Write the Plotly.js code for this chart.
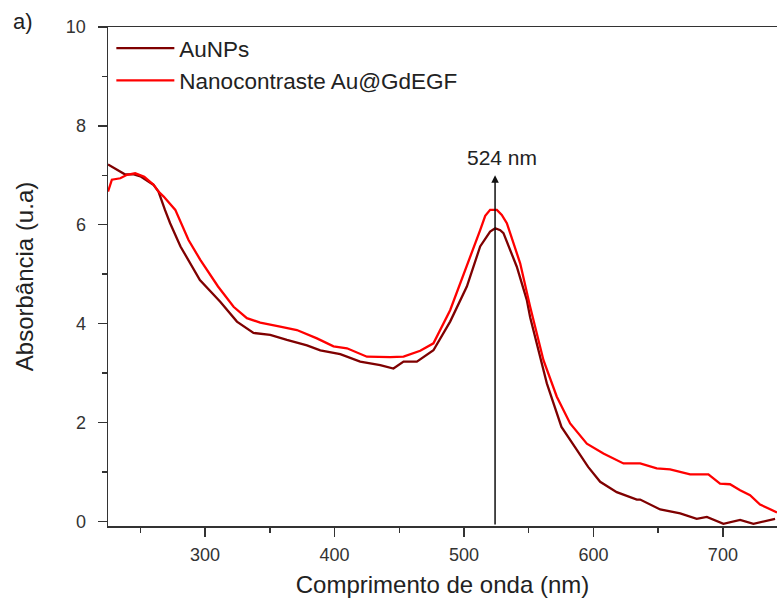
<!DOCTYPE html>
<html>
<head>
<meta charset="utf-8">
<script src="https://cdn.plot.ly/plotly-3.0.1.min.js"></script>
<style>html,body{margin:0;padding:0;background:#fff;}</style>
</head>
<body>
<div id="chart" style="width:777px;height:598px;"></div>
<script>
// Wavelength (nm) and absorbance (u.a)
const auX = [225, 238, 245, 250, 260, 264, 269, 273, 281, 296, 311.7, 319.5, 324.6, 337.4, 350.3, 363.2, 378.7, 389, 404.4, 419.8, 435.3, 445.5, 453.3, 463.6, 476.4, 489.3, 502.2, 512.5, 518, 520.2, 524.1, 528, 530.5, 540.8, 548.5, 551.1, 564, 575.3, 585.5, 595.9, 605.2, 618, 633.5, 636.1, 651.6, 667, 679.8, 687.6, 700.4, 713.3, 723.6, 731.3, 740.3];
const auY = [7.22, 7.02, 7.02, 6.98, 6.81, 6.67, 6.30, 6.03, 5.56, 4.88, 4.44, 4.21, 4.04, 3.81, 3.77, 3.67, 3.56, 3.46, 3.38, 3.23, 3.16, 3.09, 3.23, 3.23, 3.46, 4.04, 4.75, 5.56, 5.78, 5.86, 5.93, 5.89, 5.83, 5.15, 4.48, 4.13, 2.79, 1.91, 1.51, 1.10, 0.80, 0.59, 0.44, 0.44, 0.24, 0.16, 0.05, 0.09, -0.05, 0.03, -0.05, -0.01, 0.05];

const nanoX = [225, 228, 234.5, 239.7, 246, 253, 260.2, 264, 268, 277, 287.2, 296.3, 310, 322, 332.3, 342.6, 358, 370.9, 386.4, 399.2, 409.6, 425, 443, 453.3, 466.2, 476.4, 489.3, 502.2, 512.5, 516.4, 520.2, 525.4, 529.2, 533.1, 543.4, 551.1, 561.4, 571.7, 582, 594.9, 607.7, 623.2, 636.1, 648.9, 659.2, 674.7, 688.8, 697.8, 705.5, 713.3, 721, 728.7, 739, 741.8];
const nanoY = [6.67, 6.91, 6.94, 7.01, 7.04, 6.97, 6.81, 6.67, 6.57, 6.30, 5.69, 5.29, 4.75, 4.34, 4.11, 4.02, 3.94, 3.87, 3.70, 3.54, 3.50, 3.33, 3.32, 3.33, 3.45, 3.60, 4.27, 5.15, 5.89, 6.18, 6.30, 6.30, 6.20, 6.03, 5.22, 4.34, 3.26, 2.52, 1.98, 1.57, 1.37, 1.17, 1.17, 1.07, 1.05, 0.95, 0.95, 0.76, 0.75, 0.63, 0.53, 0.34, 0.22, 0.18];

const seriesNames = ["AuNPs", "Nanocontraste Au@GdEGF"];
const peakNm = 524;
const peakLabel = "524 nm";
const arrowTop = 7.0;
const xTitle = "Comprimento de onda (nm)";
const yTitle = "Absorbância (u.a)";
const panelLabel = "a)";

const font = "Liberation Sans, Arial, sans-serif";
const axisColor = "#333333";

const traces = [
  {x: auX, y: auY, name: seriesNames[0], type: "scatter", mode: "lines",
   line: {color: "#7f0000", width: 2.3}},
  {x: nanoX, y: nanoY, name: seriesNames[1], type: "scatter", mode: "lines",
   line: {color: "#ff0000", width: 2.3}}
];

const layout = {
  width: 777, height: 598,
  margin: {l: 108, r: 0, t: 27, b: 72},
  paper_bgcolor: "#ffffff", plot_bgcolor: "#ffffff",
  font: {family: font, color: "#222"},
  showlegend: true,
  legend: {x: 0.005, y: 1.0, xanchor: "left", yanchor: "top",
           bgcolor: "rgba(0,0,0,0)", font: {size: 22.5, color: "#222", family: font},
           itemwidth: 58, tracegroupgap: 0},
  xaxis: {
    range: [225, 741.8], tick0: 0, dtick: 100,
    ticks: "outside", ticklen: 9, tickwidth: 1.5, tickcolor: axisColor,
    showline: true, linecolor: axisColor, linewidth: 1.5, mirror: true,
    showgrid: false, zeroline: false,
    tickfont: {size: 18, color: "#333", family: font},
    ticklabelstandoff: 3,
    minor: {ticks: "outside", ticklen: 5, tickwidth: 1.5, tickcolor: axisColor, dtick: 50, tick0: 0, showgrid: false},
    title: {text: xTitle, font: {size: 24, color: "#222", family: font}, standoff: 12}
  },
  yaxis: {
    range: [-0.095, 10], tick0: 0, dtick: 2,
    ticks: "outside", ticklen: 9, tickwidth: 1.5, tickcolor: axisColor,
    showline: true, linecolor: axisColor, linewidth: 1.5, mirror: false,
    showgrid: false, zeroline: false,
    tickfont: {size: 18, color: "#333", family: font},
    ticklabelstandoff: 8,
    minor: {ticks: "outside", ticklen: 5, tickwidth: 1.5, tickcolor: axisColor, dtick: 1, tick0: 0, showgrid: false},
    title: {text: yTitle, font: {size: 24, color: "#222", family: font}, standoff: 25}
  },
  annotations: [
    {x: peakNm, y: arrowTop, ax: peakNm, ay: -0.095, xref: "x", yref: "y", axref: "x", ayref: "y",
     text: "", showarrow: true, arrowhead: 2, arrowsize: 1, arrowwidth: 1.5, arrowcolor: "#111",
     standoff: 0, startstandoff: 0},
    {x: peakNm, y: 7.37, xref: "x", yref: "y", text: peakLabel, showarrow: false,
     xanchor: "center", yanchor: "middle", xshift: 7,
     font: {size: 21, color: "#222", family: font}},
    {x: -0.127, y: 1.011, xref: "paper", yref: "paper", text: panelLabel, showarrow: false,
     xanchor: "center", yanchor: "middle", font: {size: 22, color: "#222", family: font}}
  ]
};

Plotly.newPlot("chart", traces, layout, {displayModeBar: false, staticPlot: true});
</script>
</body>
</html>
